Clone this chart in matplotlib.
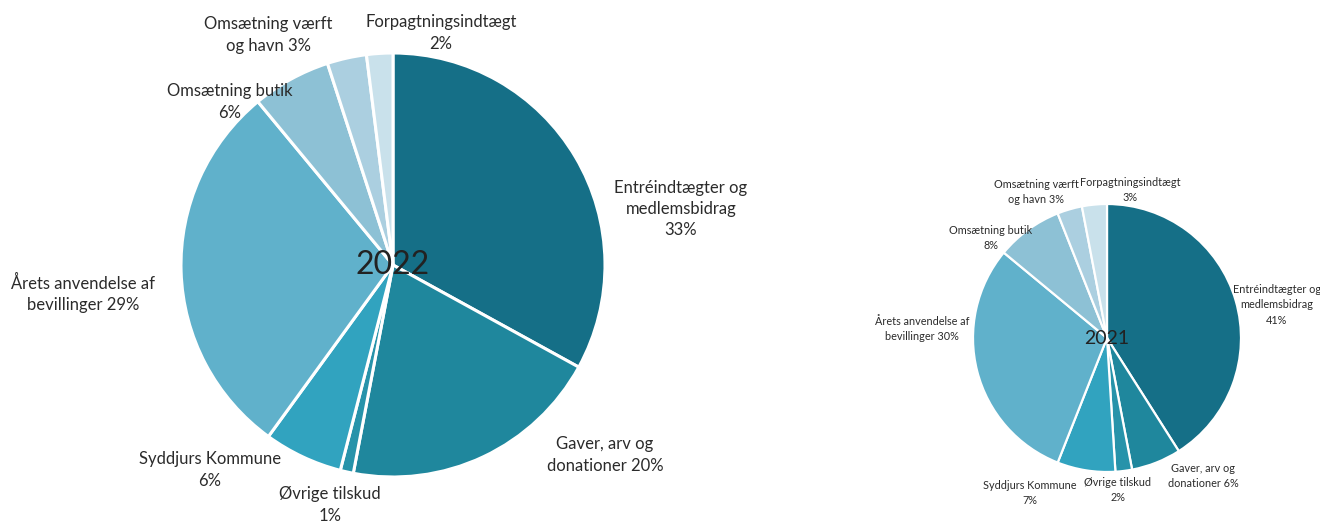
import matplotlib
matplotlib.use('Agg')
from matplotlib import pyplot as plt

plt.rcParams['font.family'] = ['Lato', 'DejaVu Sans']

# categories, clockwise from 12 o'clock
categories = ['Entréindtægter og medlemsbidrag', 'Gaver, arv og donationer', 'Øvrige tilskud',
              'Syddjurs Kommune', 'Årets anvendelse af bevillinger', 'Omsætning butik',
              'Omsætning værft og havn', 'Forpagtningsindtægt']
share_2022 = [33, 20, 1, 6, 29, 6, 3, 2]
share_2021 = [41, 6, 2, 7, 30, 8, 3, 3]

labels_2022 = ['Entréindtægter og\nmedlemsbidrag\n33%', 'Gaver, arv og\ndonationer 20%', 'Øvrige tilskud\n1%',
               'Syddjurs Kommune\n6%', 'Årets anvendelse af\nbevillinger 29%', 'Omsætning butik\n6%',
               'Omsætning værft\nog havn 3%', 'Forpagtningsindtægt\n2%']
labels_2021 = ['Entréindtægter og\nmedlemsbidrag\n41%', 'Gaver, arv og\ndonationer 6%', 'Øvrige tilskud\n2%',
               'Syddjurs Kommune\n7%', 'Årets anvendelse af\nbevillinger 30%', 'Omsætning butik\n8%',
               'Omsætning værft\nog havn 3%', 'Forpagtningsindtægt\n3%']

colors = ['#156f87', '#1f879d', '#2793aa', '#31a3bf', '#60b1cb', '#8dc1d5', '#abcfe0', '#c9e1eb']

W, H = 1320, 527
fig = plt.figure(figsize=(W / 100, H / 100), dpi=100)


def px_axes(cx, cy, r):
    return fig.add_axes([(cx - r) / W, (H - cy - r) / H, 2 * r / W, 2 * r / H])


def draw_pie(ax, values, lw):
    ax.pie(values, colors=colors, startangle=90, counterclock=False,
           wedgeprops=dict(edgecolor='white', linewidth=lw))
    ax.set_xlim(-1, 1)
    ax.set_ylim(-1, 1)
    ax.set_aspect('equal')
    ax.axis('off')


ax1 = px_axes(393, 265, 212)
draw_pie(ax1, share_2022, 2.2)
ax2 = px_axes(1107, 338, 134)
draw_pie(ax2, share_2021, 1.6)

# label centres in pixels
pos_2022 = [(681, 209), (605, 455), (330, 505), (210, 470), (83, 294), (230, 102), (268, 35), (441, 33)]
pos_2021 = [(1277, 305), (1203, 476), (1118, 490), (1030, 493), (922, 329), (991, 238), (1036, 192), (1130, 190)]

txt = '#2b2b2b'
for lab, (x, y) in zip(labels_2022, pos_2022):
    fig.text(x / W, 1 - y / H, lab, ha='center', va='center', fontsize=12, color=txt, linespacing=1.4)
for lab, (x, y) in zip(labels_2021, pos_2021):
    fig.text(x / W, 1 - y / H, lab, ha='center', va='center', fontsize=7.8, color=txt, linespacing=1.45)

fig.text(393 / W, 1 - 265 / H, '2022', ha='center', va='center', fontsize=23, color='#222222')
fig.text(1107 / W, 1 - 338 / H, '2021', ha='center', va='center', fontsize=14, color='#222222')

plt.savefig('out.png', dpi=100)
